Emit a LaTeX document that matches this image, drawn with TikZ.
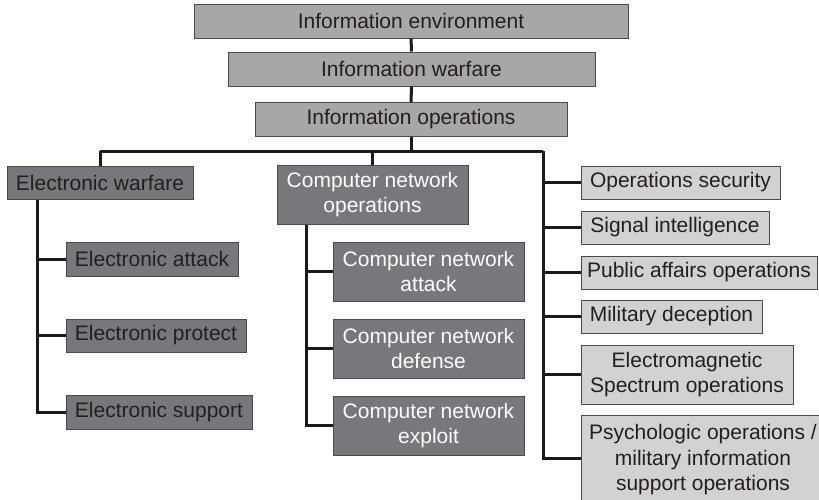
\documentclass[tikz,border=0pt]{standalone}
\usepackage{fontspec}
\setmainfont{Liberation Sans}
\definecolor{midgray}{HTML}{A7A7A9}
\definecolor{darkgraybox}{HTML}{77787B}
\definecolor{lightgraybox}{HTML}{D2D2D3}
\definecolor{bordergray}{HTML}{4A4A4C}
\definecolor{textdark}{HTML}{231F20}
\definecolor{linecol}{HTML}{1A1A1A}
\begin{document}
\begin{tikzpicture}[x=1pt,y=-1pt,
  box/.style={draw=bordergray, line width=1pt, inner sep=0pt, align=center,
    font=\fontsize{21}{25.5}\selectfont, text=textdark},
  topbox/.style={box, fill=midgray},
  darkbox/.style={box, fill=darkgraybox},
  cnbox/.style={darkbox, text=white},
  lightbox/.style={box, fill=lightgraybox},
  conn/.style={line width=3pt, draw=linecol}]
\clip (0,0) rectangle (819,499);
\fill[white] (0,0) rectangle (819,499);

% top chain
\node[topbox, minimum width=434, minimum height=34] (ie) at (411,21) {Information environment};
\node[topbox, minimum width=367, minimum height=34] (iw) at (411.5,69) {Information warfare};
\node[topbox, minimum width=312, minimum height=34] (io) at (411,119.5) {Information operations};

% electronic warfare branch
\node[darkbox, minimum width=186, minimum height=33] (ew) at (100,182.5) {Electronic warfare};
\node[darkbox, minimum width=172, minimum height=34] (ea) at (152,259) {Electronic attack};
\node[darkbox, minimum width=180, minimum height=33] (ep) at (156,335.5) {Electronic protect};
\node[darkbox, minimum width=186, minimum height=34] (es) at (159,412) {Electronic support};

% computer network branch
\node[cnbox, minimum width=191, minimum height=59] (cno) at (372.5,194.5) {Computer network\\operations};
\node[cnbox, minimum width=191, minimum height=59] (cna) at (428.5,271.5) {Computer network\\attack};
\node[cnbox, minimum width=191, minimum height=59] (cnd) at (428.5,348.5) {Computer network\\defense};
\node[cnbox, minimum width=191, minimum height=59] (cne) at (428.5,425.5) {Computer network\\exploit};

% right branch
\node[lightbox, minimum width=199, minimum height=33] (os) at (680.5,182.5) {Operations security};
\node[lightbox, minimum width=188, minimum height=33] (si) at (675,227.5) {Signal intelligence};
\node[lightbox, minimum width=236, minimum height=33] (pa) at (699,272.5) {Public affairs operations};
\node[lightbox, minimum width=181, minimum height=33] (md) at (671.5,316.5) {Military deception};
\node[lightbox, minimum width=212, minimum height=59] (em) at (687,374.5) {Electromagnetic\\Spectrum operations};
\node[lightbox, minimum width=244, minimum height=90] (ps) at (703,460) {Psychologic operations /\\military information\\support operations};

% connectors
\coordinate (busL) at (100,151);
\coordinate (busR) at (543,151);
\coordinate (ewline) at (37,0);
\coordinate (cnline) at (306,0);

\draw[conn] (ie) -- (iw);
\draw[conn] (iw) -- (io);
\draw[conn] (io.south) -- (io.south |- busL);
\draw[conn] (busL) -- (busR);
\draw[conn] (busL) -- (ew.north);
\draw[conn] (cno.north |- busL) -- (cno.north);

\draw[conn] (ew.south -| ewline) |- (es.west);
\draw[conn] (ea.west -| ewline) -- (ea.west);
\draw[conn] (ep.west -| ewline) -- (ep.west);

\draw[conn] (cno.south -| cnline) |- (cne.west);
\draw[conn] (cna.west -| cnline) -- (cna.west);
\draw[conn] (cnd.west -| cnline) -- (cnd.west);

\draw[conn] (busR) |- ([yshift=2pt]ps.west);
\draw[conn] (os.west -| busR) -- (os.west);
\draw[conn] (si.west -| busR) -- (si.west);
\draw[conn] (pa.west -| busR) -- (pa.west);
\draw[conn] (md.west -| busR) -- (md.west);
\draw[conn] (em.west -| busR) -- (em.west);
\end{tikzpicture}
\end{document}
